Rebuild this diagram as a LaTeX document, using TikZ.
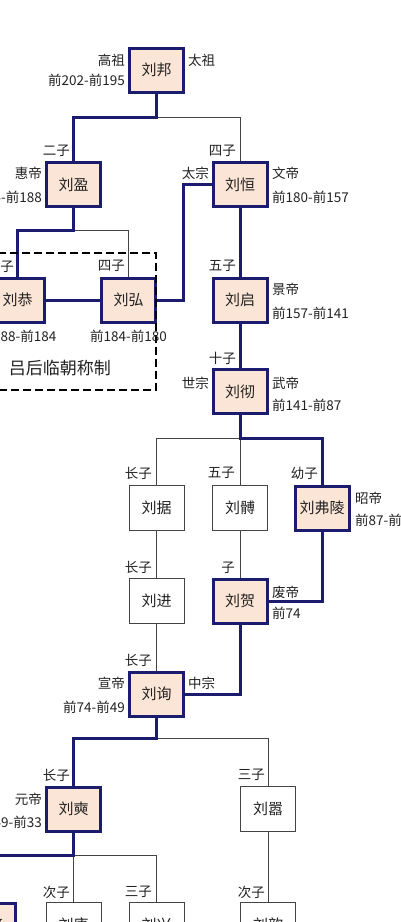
\documentclass[tikz,border=0pt]{standalone}
\usepackage{fontspec}
\setmainfont{Noto Sans CJK SC}
\definecolor{navy}{HTML}{1C1C6E}
\definecolor{wire}{HTML}{444444}
\definecolor{peach}{HTML}{FBE5D6}
\definecolor{ink}{HTML}{222222}

\begin{document}
\begin{tikzpicture}[
 x=1pt,y=-1pt,
 emp/.style={draw=navy,fill=peach,line width=3pt,minimum width=54pt,minimum height=44pt,inner sep=0pt,text=ink,font=\fontsize{15}{17}\selectfont},
 kin/.style={draw=wire,fill=white,line width=1pt,minimum width=55pt,minimum height=45pt,inner sep=0pt,text=ink,font=\fontsize{15}{17}\selectfont},
 lab/.style={inner sep=0pt,text=ink,font=\fontsize{13.5}{15}\selectfont},
 lt/.style={lab,anchor=east},
 rt/.style={lab,anchor=west},
 heir/.style={draw=navy,line width=3pt},
 branch/.style={draw=wire,line width=1pt}
]
\useasboundingbox (0,0) rectangle (400,922);
\clip (0,0) rectangle (400,922);
\fill[white] (0,0) rectangle (400,922);

% Boxes of the emperors and of the other sons.
\node[emp] (bang) at (156.5,70) {刘邦};
\node[emp] (ying) at (73.5,184.5) {刘盈};
\node[emp] (heng) at (240,184.5) {刘恒};
\node[emp] (gong) at (17.5,300) {刘恭};
\node[emp] (hong) at (128.5,300) {刘弘};
\node[emp] (qi) at (240,300) {刘启};
\node[emp] (che) at (240,391.5) {刘彻};
\node[kin] (ju) at (156.5,508) {刘据};
\node[kin] (bo) at (240,508) {刘髆};
\node[emp] (fuling) at (322,508) {刘弗陵};
\node[kin] (jin) at (156.5,600.5) {刘进};
\node[emp] (he) at (240,601) {刘贺};
\node[emp] (xun) at (156.5,694) {刘询};
\node[emp] (shi) at (73.5,809) {刘奭};
\node[kin] (xiao) at (268,809) {刘嚣};
\node[emp] (ao) at (-12,925) {刘骜};
\node[kin] (kang) at (73.5,925) {刘康};
\node[kin] (xing) at (156.5,925) {刘兴};
\node[kin] (xin) at (268,925) {刘歆};

% Junctions.
\coordinate (j1) at (156.5,117);
\coordinate (j2) at (73.5,230);
\coordinate (j3) at (183,300);
\coordinate (j4) at (240,438);
\coordinate (j5) at (156.5,738);
\coordinate (j6) at (73.5,855);

% Other sons.
\draw[branch] (j1) -| (heng.north);
\draw[branch] (j2) -| (hong.north);
\draw[branch] (j4) -| (ju.north);
\draw[branch] (j4) -- (bo.north);
\draw[branch] (ju.south) -- (jin.north);
\draw[branch] (bo.south) -- (he.north);
\draw[branch] (jin.south) -- (xun.north);
\draw[branch] (j5) -| (xiao.north);
\draw[branch] (j6) -- (kang.north);
\draw[branch] (j6) -| (xing.north);
\draw[branch] (xiao.south) -- (xin.north);

% Line of succession.
\draw[heir] (bang.south) -- (j1) -| (ying.north);
\draw[heir] (ying.south) -- (j2) -| (gong.north);
\draw[heir] (gong.east) -- (hong.west);
\draw[heir] (hong.east) -- (j3) |- (heng.west);
\draw[heir] (heng.south) -- (qi.north);
\draw[heir] (qi.south) -- (che.north);
\draw[heir] (che.south) -- (j4) -| (fuling.north);
\draw[heir] (fuling.south) |- (he.east);
\draw[heir] (he.south) |- (xun.east);
\draw[heir] (xun.south) -- (j5) -| (shi.north);
\draw[heir] (shi.south) -- (j6) -| (ao.north);

% Regency of Empress Lü.
\draw[black,line width=1.8pt,dash pattern=on 8pt off 4pt] (-20,253) rectangle (156,390);
\node[lab,font=\fontsize{17}{19}\selectfont] (lv) at (60,368) {吕后临朝称制};

% Titles and reigns.
\node[lt] (bang-a) at (125,60) {高祖};
\node[lt] (bang-b) at (125,80) {前202-前195};
\node[rt] (bang-c) at (188,60) {太祖};
\node[lt] (ying-s) at (70,151) {二子};
\node[lt] (ying-a) at (42,173) {惠帝};
\node[lt] (ying-b) at (42,197) {前195-前188};
\node[lt] (heng-s) at (236,151) {四子};
\node[lt] (heng-a) at (209,173) {太宗};
\node[rt] (heng-b) at (272,173) {文帝};
\node[rt] (heng-c) at (272,197) {前180-前157};
\node[lt] (gong-s) at (14,266) {长子};
\node[lab] (gong-b) at (18,336) {前188-前184};
\node[lt] (hong-s) at (125,266) {四子};
\node[lab] (hong-b) at (128.5,336) {前184-前180};
\node[lt] (qi-s) at (236,266) {五子};
\node[rt] (qi-a) at (272,289) {景帝};
\node[rt] (qi-b) at (272,313) {前157-前141};
\node[lt] (che-s) at (236,358) {十子};
\node[lt] (che-a) at (209,383) {世宗};
\node[rt] (che-b) at (272,383) {武帝};
\node[rt] (che-c) at (272,405) {前141-前87};
\node[lt] (ju-s) at (152,473) {长子};
\node[lt] (bo-s) at (235,473) {五子};
\node[lt] (fuling-s) at (318,473) {幼子};
\node[rt] (fuling-a) at (355,498) {昭帝};
\node[rt] (fuling-b) at (355,520) {前87-前74};
\node[lt] (jin-s) at (152,567) {长子};
\node[lt] (he-s) at (235,568) {子};
\node[rt] (he-a) at (272,592) {废帝};
\node[rt] (he-b) at (272,613) {前74};
\node[lt] (xun-s) at (152,660) {长子};
\node[lt] (xun-a) at (125,683) {宣帝};
\node[lt] (xun-b) at (125,707) {前74-前49};
\node[rt] (xun-c) at (188,683) {中宗};
\node[lt] (shi-s) at (70,775) {长子};
\node[lt] (shi-a) at (42,799) {元帝};
\node[lt] (shi-b) at (42,822) {前49-前33};
\node[lt] (xiao-s) at (265,775) {三子};
\node[lt] (kang-s) at (70,892) {次子};
\node[lt] (xing-s) at (152,892) {三子};
\node[lt] (xin-s) at (265,892) {次子};
\end{tikzpicture}
\end{document}
